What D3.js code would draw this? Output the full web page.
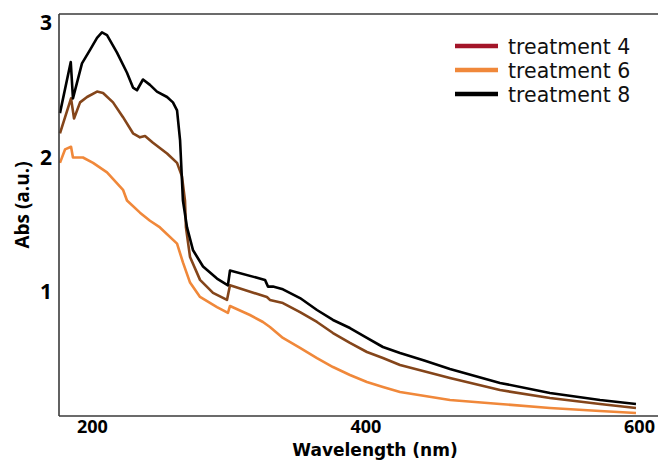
<!DOCTYPE html>
<html>
<head>
<meta charset="utf-8">
<script src="https://cdn.jsdelivr.net/npm/d3@7"></script>
<style>
  body { margin: 0; background: #fff; }
  svg { display: block; }
</style>
</head>
<body>
<div id="chart"></div>
<script>
// absorbance spectra, [wavelength nm, abs]
var treatment8 = [
  [176.7, 2.33], [184.6, 2.71], [186.2, 2.44], [192.8, 2.70], [198.7, 2.80], [203.8, 2.89],
  [207.4, 2.93], [211.1, 2.91], [218.4, 2.78], [225.7, 2.63], [230.1, 2.52], [233.0, 2.50],
  [237.4, 2.58], [242.5, 2.54], [247.6, 2.49], [255.0, 2.45], [259.3, 2.41], [262.3, 2.35],
  [264.5, 2.13], [266.6, 1.68], [269.6, 1.48], [274.0, 1.31], [281.3, 1.19], [291.5, 1.10],
  [299.5, 1.05], [301.0, 1.16], [326.6, 1.09], [328.8, 1.04], [332.4, 1.04], [339.7, 1.02],
  [352.2, 0.955], [364.6, 0.866], [376.3, 0.792], [388.7, 0.732], [401.1, 0.658], [412.8, 0.591],
  [425.3, 0.546], [443.0, 0.49], [461.8, 0.428], [498.4, 0.324], [534.9, 0.249], [571.5, 0.197],
  [597.8, 0.167]
];
var treatment4 = [
  [176.7, 2.18], [184.8, 2.44], [187.0, 2.29], [191.4, 2.41], [196.5, 2.45], [203.8, 2.49],
  [208.2, 2.48], [215.5, 2.41], [222.8, 2.30], [230.1, 2.18], [235.2, 2.15], [238.9, 2.16],
  [244.7, 2.11], [255.0, 2.03], [262.3, 1.96], [265.9, 1.86], [268.1, 1.68], [268.8, 1.48],
  [271.8, 1.26], [279.1, 1.09], [288.6, 0.993], [298.8, 0.941], [301.0, 1.05], [328.0, 0.963],
  [330.2, 0.941], [339.7, 0.918], [352.2, 0.851], [364.6, 0.777], [376.3, 0.695], [388.7, 0.621],
  [401.1, 0.554], [412.8, 0.509], [425.3, 0.457], [461.8, 0.361], [498.4, 0.271], [534.9, 0.212],
  [571.5, 0.167], [597.8, 0.138]
];
var treatment6 = [
  [176.7, 1.96], [180.4, 2.06], [184.8, 2.08], [186.2, 2.00], [189.9, 2.00], [193.5, 2.00],
  [200.9, 1.96], [211.1, 1.89], [222.8, 1.76], [225.7, 1.68], [235.2, 1.59], [242.5, 1.53],
  [249.8, 1.48], [262.3, 1.36], [266.6, 1.22], [271.8, 1.07], [279.1, 0.963], [291.5, 0.888],
  [299.5, 0.844], [301.0, 0.896], [315.6, 0.829], [325.1, 0.777], [330.2, 0.740], [339.7, 0.658],
  [352.2, 0.584], [364.6, 0.509], [376.3, 0.442], [388.7, 0.383], [401.1, 0.331], [412.8, 0.294],
  [425.3, 0.257], [461.8, 0.197], [498.4, 0.167], [534.9, 0.138], [571.5, 0.115], [597.8, 0.100]
];

var seriesNames = ["treatment 4", "treatment 6", "treatment 8"];
var xTicks = [200, 400, 600];
var yTicks = [1, 2, 3];

var width = 659, height = 461;
var margin = {top: 14, right: 1, bottom: 45, left: 59};

// legend colour and the colour the curve is drawn with
var legendColors = ["#a31529", "#f0883a", "#000000"];
var lineColors = ["#84451a", "#f0883a", "#000000"];

var svg = d3.select("#chart").append("svg")
    .attr("width", width)
    .attr("height", height);

var x = d3.scaleLinear()
    .domain([176, 613.9])
    .range([margin.left, width - margin.right]);

var y = d3.scaleLinear()
    .domain([0.078, 3.067])
    .range([height - margin.bottom, margin.top]);

var line = d3.line()
    .x(function (d) { return x(d[0]); })
    .y(function (d) { return y(d[1]); });

// curves: orange first, then brown, black on top
var order = [1, 0, 2];
var data = [treatment4, treatment6, treatment8];
order.forEach(function (i) {
  svg.append("path")
      .datum(data[i])
      .attr("fill", "none")
      .attr("stroke", lineColors[i])
      .attr("stroke-width", 2.6)
      .attr("stroke-linejoin", "round")
      .attr("d", line);
});

// frame: left, top, bottom
var x0 = margin.left, x1 = width - margin.right;
var y0 = margin.top, y1 = height - margin.bottom;
var frame = svg.append("g").attr("stroke", "#3a3a3a").attr("stroke-width", 1.6);
frame.append("line").attr("x1", x0).attr("x2", x0).attr("y1", y0).attr("y2", y1);
frame.append("line").attr("x1", x0).attr("x2", x1).attr("y1", y0).attr("y2", y0);
frame.append("line").attr("x1", x0).attr("x2", x1).attr("y1", y1).attr("y2", y1);

// axes without tick marks, just labels
var xAxis = svg.append("g")
    .attr("transform", "translate(0," + y1 + ")")
    .call(d3.axisBottom(x).tickValues(xTicks).tickSize(0).tickPadding(4));
var yAxis = svg.append("g")
    .attr("transform", "translate(" + x0 + ",0)")
    .call(d3.axisLeft(y).tickValues(yTicks).tickFormat(d3.format("d")).tickSize(0).tickPadding(7));

[xAxis, yAxis].forEach(function (g) {
  g.select(".domain").remove();
  g.selectAll("text")
      .attr("font-family", "'Open Sans', sans-serif")
      .attr("font-size", 18)
      .attr("font-weight", "bold")
      .attr("fill", "#000");
});
yAxis.selectAll("text").attr("font-size", 21);

svg.append("text")
    .attr("x", 375)
    .attr("y", 456)
    .attr("text-anchor", "middle")
    .attr("font-family", "'DejaVu Sans', sans-serif")
    .attr("font-size", 17)
    .attr("font-weight", "bold")
    .text("Wavelength (nm)");

svg.append("text")
    .attr("transform", "translate(29,205) rotate(-90)")
    .attr("text-anchor", "middle")
    .attr("font-family", "'Open Sans', sans-serif")
    .attr("font-size", 19)
    .attr("font-weight", "bold")
    .text("Abs (a.u.)");

// legend
var legend = svg.append("g")
    .selectAll("g")
    .data(seriesNames)
    .enter().append("g")
      .attr("transform", function (d, i) { return "translate(455," + (54 + i * 24) + ")"; });

legend.append("line")
    .attr("x1", 0)
    .attr("x2", 43)
    .attr("y1", -8)
    .attr("y2", -8)
    .attr("stroke-width", 4.5)
    .attr("stroke", function (d, i) { return legendColors[i]; });

legend.append("text")
    .attr("x", 53)
    .attr("y", 0)
    .attr("font-family", "'DejaVu Sans', sans-serif")
    .attr("font-size", 20.5)
    .attr("fill", "#111")
    .text(function (d) { return d; });
</script>
</body>
</html>
